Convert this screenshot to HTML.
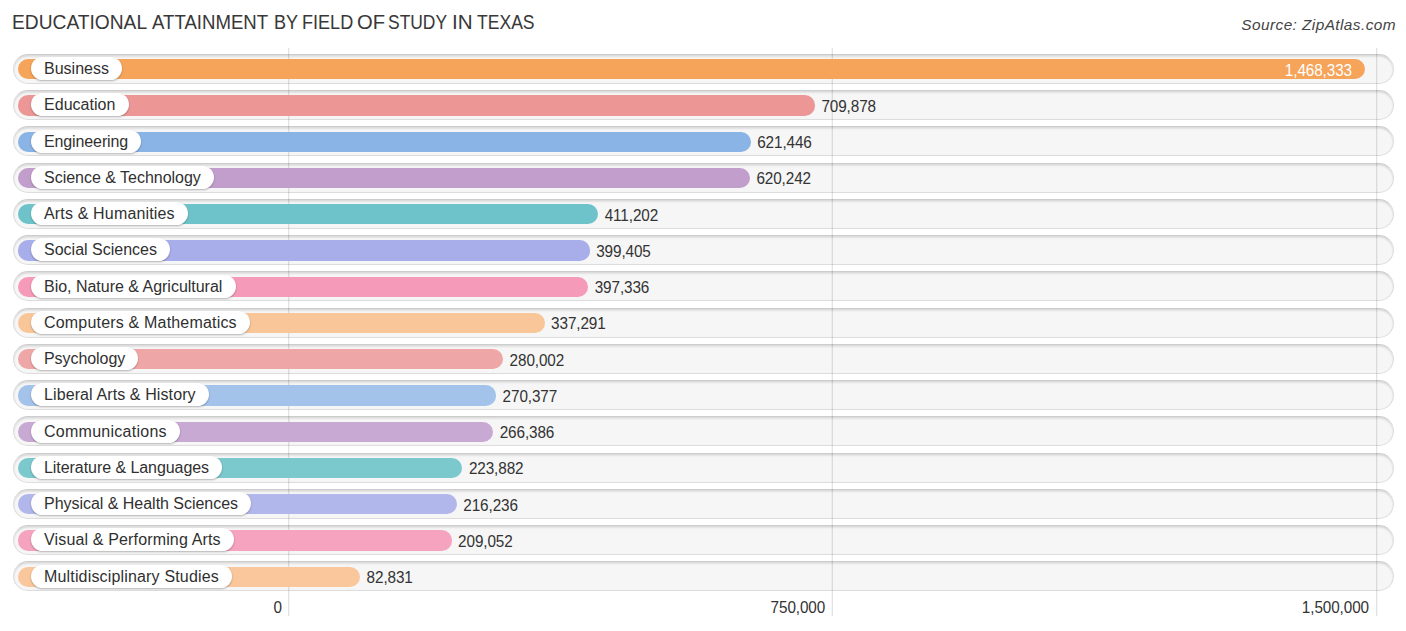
<!DOCTYPE html>
<html><head><meta charset="utf-8">
<style>
html,body{margin:0;padding:0;background:#fff;}
body{width:1406px;height:631px;position:relative;overflow:hidden;font-family:"Liberation Sans",sans-serif;}
.title{position:absolute;top:11px;font-size:19.5px;color:#383838;white-space:nowrap;line-height:22px;transform-origin:0 0;}
.src{position:absolute;right:10px;top:15.4px;font-size:15.4px;letter-spacing:0.42px;font-style:italic;color:#444;white-space:nowrap;line-height:19px;}
.track{position:absolute;box-sizing:border-box;left:12.8px;width:1380.8px;height:30px;border-radius:15px;background:#f6f6f6;border:1px solid #dddddd;border-top-color:#cdcdcd;box-shadow:inset 0 1.5px 2px rgba(0,0,0,0.13);}
.grid{position:absolute;top:48px;height:568px;width:1px;background:rgba(0,0,0,0.11);}
.gridh{position:absolute;top:48px;height:568px;width:1px;background:rgba(0,0,0,0.04);}
.bar{position:absolute;left:18px;height:20.2px;border-radius:10.1px;}
.pill{position:absolute;box-sizing:border-box;left:31px;height:23px;border-radius:11.5px;background:#fff;box-shadow:0 1px 2px rgba(0,0,0,0.28);font-size:16px;color:#303030;line-height:24.5px;padding:0 0 0 13px;white-space:nowrap;}
.val{position:absolute;font-size:15.3px;letter-spacing:-0.1px;color:#333;line-height:20px;white-space:nowrap;transform:scaleY(1.1);transform-origin:50% 4.5px;}
.ax{position:absolute;top:597.6px;font-size:15.3px;letter-spacing:-0.1px;color:#333;white-space:nowrap;line-height:18px;transform:scaleY(1.1);transform-origin:50% 3.5px;}
</style></head><body>
<div class="src">Source: ZipAtlas.com</div>
<div class="title" style="left:11.53px;transform:scaleX(0.9844)">EDUCATIONAL</div>
<div class="title" style="left:152.40px;transform:scaleX(0.9545)">ATTAINMENT</div>
<div class="title" style="left:273.75px;transform:scaleX(0.9261)">BY</div>
<div class="title" style="left:301.65px;transform:scaleX(0.9269)">FIELD</div>
<div class="title" style="left:356.56px;transform:scaleX(1.0360)">OF</div>
<div class="title" style="left:388.21px;transform:scaleX(0.8938)">STUDY</div>
<div class="title" style="left:452.19px;transform:scaleX(1.0562)">IN</div>
<div class="title" style="left:477.20px;transform:scaleX(0.9000)">TEXAS</div>
<div class="track" style="top:53.90px"></div>
<div class="track" style="top:90.15px"></div>
<div class="track" style="top:126.40px"></div>
<div class="track" style="top:162.65px"></div>
<div class="track" style="top:198.90px"></div>
<div class="track" style="top:235.15px"></div>
<div class="track" style="top:271.40px"></div>
<div class="track" style="top:307.65px"></div>
<div class="track" style="top:343.90px"></div>
<div class="track" style="top:380.15px"></div>
<div class="track" style="top:416.40px"></div>
<div class="track" style="top:452.65px"></div>
<div class="track" style="top:488.90px"></div>
<div class="track" style="top:525.15px"></div>
<div class="track" style="top:561.40px"></div>
<div class="grid" style="left:288px"></div>
<div class="gridh" style="left:289px"></div>
<div class="grid" style="left:832px"></div>
<div class="gridh" style="left:831px"></div>
<div class="grid" style="left:1376px"></div>
<div class="gridh" style="left:1377px"></div>
<div class="bar" style="top:59.10px;width:1347.0px;background:#F5A45A"></div>
<div class="pill" style="top:56.70px;width:91.2px;letter-spacing:0.012px">Business</div>
<div class="val" style="top:59.60px;right:54px;color:#fff">1,468,333</div>
<div class="bar" style="top:95.35px;width:796.9px;background:#EC9696"></div>
<div class="pill" style="top:92.95px;width:97.7px;letter-spacing:0.033px">Education</div>
<div class="val" style="top:95.85px;left:821.4px">709,878</div>
<div class="bar" style="top:131.60px;width:732.7px;background:#8AB3E6"></div>
<div class="pill" style="top:130.20px;width:110.3px;letter-spacing:-0.118px">Engineering</div>
<div class="val" style="top:132.10px;left:757.2px">621,446</div>
<div class="bar" style="top:167.85px;width:731.9px;background:#C19ECB"></div>
<div class="pill" style="top:166.45px;width:183.0px;letter-spacing:-0.015px">Science &amp; Technology</div>
<div class="val" style="top:168.35px;left:756.4px">620,242</div>
<div class="bar" style="top:204.10px;width:580.2px;background:#6EC3CA"></div>
<div class="pill" style="top:201.70px;width:156.9px;letter-spacing:0.159px">Arts &amp; Humanities</div>
<div class="val" style="top:204.60px;left:604.7px">411,202</div>
<div class="bar" style="top:240.35px;width:571.7px;background:#A8AEE9"></div>
<div class="pill" style="top:237.95px;width:139.2px;letter-spacing:0.000px">Social Sciences</div>
<div class="val" style="top:240.85px;left:596.2px">399,405</div>
<div class="bar" style="top:276.60px;width:570.2px;background:#F59AB8"></div>
<div class="pill" style="top:275.20px;width:204.6px;letter-spacing:-0.015px">Bio, Nature &amp; Agricultural</div>
<div class="val" style="top:277.10px;left:594.7px">397,336</div>
<div class="bar" style="top:312.85px;width:526.6px;background:#F8C699"></div>
<div class="pill" style="top:311.45px;width:219.0px;letter-spacing:0.187px">Computers &amp; Mathematics</div>
<div class="val" style="top:313.35px;left:551.1px">337,291</div>
<div class="bar" style="top:349.10px;width:485.1px;background:#EFA6A6"></div>
<div class="pill" style="top:346.70px;width:107.4px;letter-spacing:-0.060px">Psychology</div>
<div class="val" style="top:349.60px;left:509.6px">280,002</div>
<div class="bar" style="top:385.35px;width:478.1px;background:#A3C3EA"></div>
<div class="pill" style="top:382.95px;width:177.9px;letter-spacing:0.105px">Liberal Arts &amp; History</div>
<div class="val" style="top:385.85px;left:502.6px">270,377</div>
<div class="bar" style="top:421.60px;width:475.2px;background:#C8A9D3"></div>
<div class="pill" style="top:420.20px;width:149.1px;letter-spacing:0.264px">Communications</div>
<div class="val" style="top:422.10px;left:499.7px">266,386</div>
<div class="bar" style="top:457.85px;width:444.4px;background:#7BC8CD"></div>
<div class="pill" style="top:456.45px;width:191.2px;letter-spacing:-0.059px">Literature &amp; Languages</div>
<div class="val" style="top:458.35px;left:468.9px">223,882</div>
<div class="bar" style="top:494.10px;width:438.8px;background:#B2B7EB"></div>
<div class="pill" style="top:491.70px;width:220.3px;letter-spacing:-0.027px">Physical &amp; Health Sciences</div>
<div class="val" style="top:494.60px;left:463.3px">216,236</div>
<div class="bar" style="top:530.35px;width:433.6px;background:#F5A3BF"></div>
<div class="pill" style="top:527.95px;width:202.9px;letter-spacing:0.150px">Visual &amp; Performing Arts</div>
<div class="val" style="top:530.85px;left:458.1px">209,052</div>
<div class="bar" style="top:566.60px;width:342.1px;background:#F9C79B"></div>
<div class="pill" style="top:565.20px;width:201.1px;letter-spacing:0.168px">Multidisciplinary Studies</div>
<div class="val" style="top:567.10px;left:366.6px">82,831</div>
<div class="ax" style="right:1124px">0</div>
<div class="ax" style="right:580.8px">750,000</div>
<div class="ax" style="right:37px">1,500,000</div>
</body></html>
